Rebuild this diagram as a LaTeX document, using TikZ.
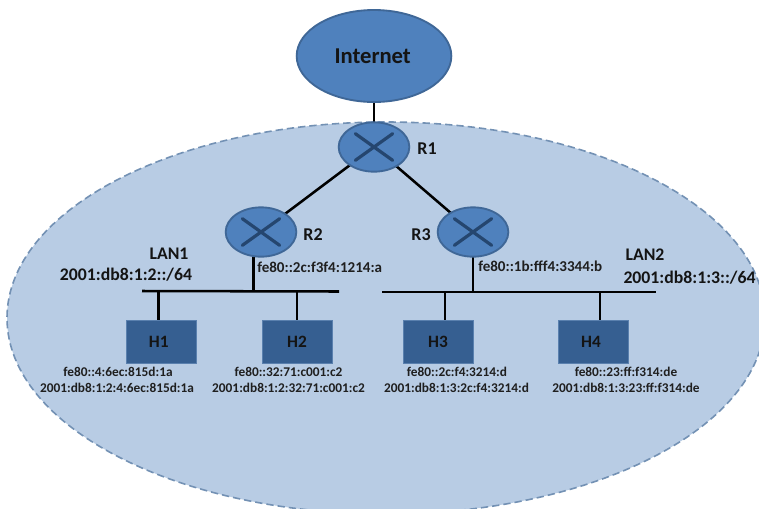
\documentclass[tikz,border=0pt]{standalone}
\usepackage{fontspec}
\setmainfont{Carlito}
\usetikzlibrary{shapes.geometric}
\definecolor{cloudfill}{HTML}{4F81BD}
\definecolor{cloudline}{HTML}{3F6797}
\definecolor{lanfill}{HTML}{B8CCE4}
\definecolor{lanline}{HTML}{7391B4}
\definecolor{hostfill}{HTML}{365F91}
\definecolor{hostline}{HTML}{5A80AE}
\definecolor{crosscol}{HTML}{25466F}
\tikzset{
  x=0.75pt,y=-0.75pt,
  link/.style={line width=1.9pt,black},
  netcloud/.style={ellipse,draw=cloudline,fill=cloudfill,line width=1.4pt,minimum width=116pt,minimum height=69pt,inner sep=0pt,font=\fontsize{17}{18}\selectfont\bfseries,text=black!92},
  router/.style={ellipse,draw=cloudline,fill=cloudfill,line width=1.4pt,minimum width=53pt,minimum height=37pt,inner sep=0pt,
    path picture={
      \draw[crosscol,line width=2.4pt,line cap=round] ([xshift=-14pt,yshift=-10pt]path picture bounding box.center) -- ([xshift=14pt,yshift=10pt]path picture bounding box.center);
      \draw[crosscol,line width=2.4pt,line cap=round] ([xshift=-14pt,yshift=10pt]path picture bounding box.center) -- ([xshift=14pt,yshift=-10pt]path picture bounding box.center);
    }},
  hostbox/.style={rectangle,draw=hostline,fill=hostfill,line width=0.6pt,minimum width=52.5pt,minimum height=32pt,inner sep=0pt,font=\fontsize{13}{14}\selectfont\bfseries,text=black!92},
  biglabel/.style={font=\fontsize{13.3}{15}\selectfont\bfseries,text=black!92,inner sep=0pt,align=center},
  addr/.style={font=\fontsize{10}{12}\selectfont\bfseries,text=black!88,inner sep=0pt,align=center},
  raddr/.style={font=\fontsize{11.3}{12}\selectfont\bfseries,text=black!88,inner sep=0pt},
  routerlabel/.style={font=\fontsize{13.5}{14}\selectfont\bfseries,text=black!92,inner sep=0pt}
}
\begin{document}
\begin{tikzpicture}
\path[use as bounding box] (0,0) rectangle (759,508);
\clip (0,0) rectangle (759,508);
\fill[white] (0,0) rectangle (759,508);
% LAN area
\node[ellipse,draw=lanline,fill=lanfill,dash pattern=on 5.5pt off 3pt,line width=1.2pt,minimum width=568.5pt,minimum height=294pt,inner sep=0pt] (area) at (386,318) {};
% nodes
\node[netcloud] (inet) at (374,56) {\kern-2pt Internet};
\coordinate (r1c) at (374,147);
\coordinate (r2c) at (261,232);
\coordinate (r3c) at (473,232);
\coordinate (l1a) at (142,291);
\coordinate (l1b) at (339,291.5);
\coordinate (l2a) at (382,292);
\coordinate (l2b) at (656,292);
\coordinate (j2) at (253.5,291);
\coordinate (j3) at (473,292);
\coordinate (j1) at (158.5,291);
\coordinate (jh2) at (297,291);
\coordinate (jh3) at (445,292);
\coordinate (jh4) at (600,292);
\node[hostbox] (h1) at (161.5,342) {\kern-4pt H1};
\node[hostbox] (h2) at (297,342) {H2};
\node[hostbox] (h3) at (438,342) {H3};
\node[hostbox] (h4) at (593,342) {\kern-3pt H4};
\draw[link] (inet.south) -- (r1c);
\draw[link] (r1c) -- (r2c);
\draw[link] (r1c) -- (r3c);
\draw[link] (l1a) -- (l1b);
\draw[link] (l2a) -- (l2b);
\draw[link] (r2c -| j2) -- (j2);
\draw[link] (r3c) -- (j3);
\draw[link] (j1) -- (j1 |- h1.north);
\draw[link] (jh2) -- (jh2 |- h2.north);
\draw[link] (jh3) -- (jh3 |- h3.north);
\draw[link] (jh4) -- (jh4 |- h4.north);
\node[router] (r1) at (r1c) {};
\node[router] (r2) at (r2c) {};
\node[router] (r3) at (r3c) {};
% labels
\node[routerlabel] (lr1) at (427,149) {R1};
\node[routerlabel] (lr2) at (313,235) {R2};
\node[routerlabel] (lr3) at (421,235) {R3};
\node[biglabel] (lan1) at (169,254) {LAN1};
\node[biglabel] (lan1p) at (126,274.5) {2001:db8:1:2::/64};
\node[biglabel] (lan2) at (645,255) {LAN2};
\node[biglabel] (lan2p) at (689.5,277.5) {2001:db8:1:3::/64};
\node[raddr,anchor=west] (ar2) at (257,267) {fe80::2c:f3f4:1214:a};
\node[raddr,anchor=west] (ar3) at (478,266.5) {fe80::1b:fff4:3344:b};
\node[addr] (a1a) at (118,372) {fe80::4:6ec:815d:1a};
\node[addr] (a1b) at (117,388) {2001:db8:1:2:4:6ec:815d:1a};
\node[addr] (a2a) at (288.5,372) {fe80::32:71:c001:c2};
\node[addr] (a2b) at (288.5,388) {2001:db8:1:2:32:71:c001:c2};
\node[addr] (a3a) at (457,372) {fe80::2c:f4:3214:d};
\node[addr] (a3b) at (456.5,388) {2001:db8:1:3:2c:f4:3214:d};
\node[addr] (a4a) at (626,372) {fe80::23:ff:f314:de};
\node[addr] (a4b) at (626,388) {2001:db8:1:3:23:ff:f314:de};
\end{tikzpicture}
\end{document}
